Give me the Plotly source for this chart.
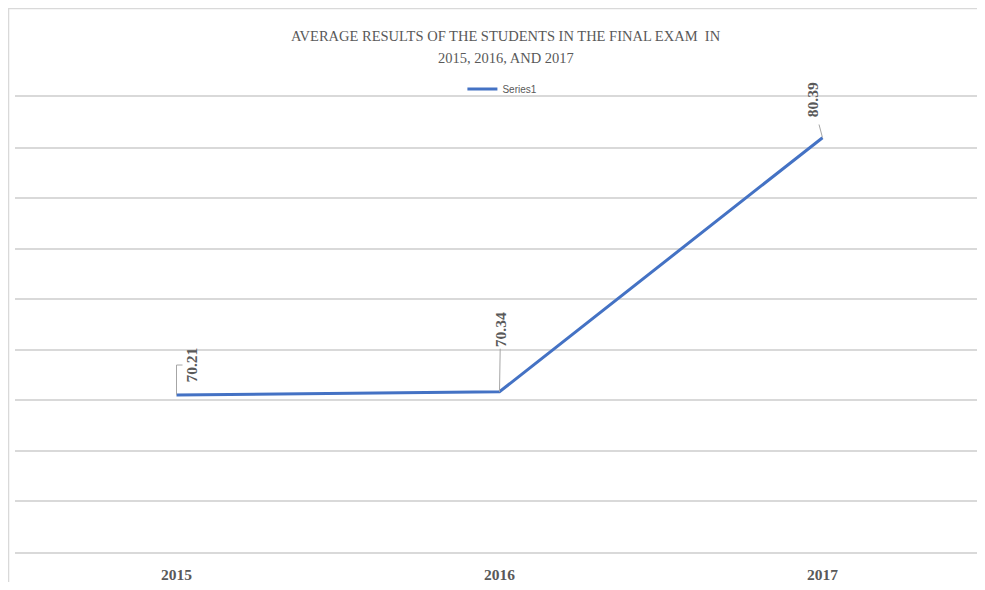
import plotly.graph_objects as go

years = ["2015", "2016", "2017"]
scores = [70.21, 70.34, 80.39]
series_name = "Series1"
title_lines = ["AVERAGE RESULTS OF THE STUDENTS IN THE FINAL EXAM  IN", "2015, 2016, AND 2017"]

GRAY = "#595959"
GRID = "#d9d9d9"
BLUE = "#4472C4"
LEADER = "#a6a6a6"
LABEL_FONT = dict(family="Liberation Serif", size=15.5, color=GRAY, weight="bold")

fig = go.Figure()
fig.add_trace(go.Scatter(
    x=years, y=scores, mode="lines", name=series_name,
    line=dict(color=BLUE, width=3), showlegend=True,
))

# category positions on the axis are the indices of the years
idx = list(range(len(years)))

# 2015 label: L-shaped leader, text placed with shifts
fig.add_annotation(
    x=idx[0], y=scores[0], xref="x", yref="y", text=f"{scores[0]:.2f}",
    showarrow=False, textangle=-90, xshift=15, yshift=30, font=LABEL_FONT,
)
fig.add_shape(
    type="path", xref="x", yref="y", xsizemode="pixel", ysizemode="pixel",
    xanchor=idx[0], yanchor=scores[0], path="M0,0 L0,30 L6,30",
    line=dict(color=LEADER, width=1),
)
# 2016 and 2017 labels: straight leaders
fig.add_annotation(
    x=idx[1], y=scores[1], xref="x", yref="y", text=f"{scores[1]:.2f}",
    showarrow=True, arrowhead=0, arrowwidth=1, arrowcolor=LEADER,
    ax=1, ay=-62, standoff=0, startstandoff=0, textangle=-90, font=LABEL_FONT,
)
fig.add_annotation(
    x=idx[2], y=scores[2], xref="x", yref="y", text=f"{scores[2]:.2f}",
    showarrow=True, arrowhead=0, arrowwidth=1, arrowcolor=LEADER,
    ax=-10, ay=-38, standoff=0, startstandoff=6, textangle=-90, font=LABEL_FONT,
)

fig.add_annotation(
    text=title_lines[0], x=0.507, y=1.134, xref="paper", yref="paper",
    showarrow=False, xanchor="center", yanchor="middle",
    font=dict(family="Liberation Serif", size=14.5, color=GRAY),
)
fig.add_annotation(
    text=title_lines[1], x=0.507, y=1.086, xref="paper", yref="paper",
    showarrow=False, xanchor="center", yanchor="middle",
    font=dict(family="Liberation Serif", size=14.5, color=GRAY),
)

# chart border
fig.add_shape(
    type="rect", xref="paper", yref="paper",
    x0=-0.0067, x1=1.01, y0=-0.2, y1=1.1945,
    line=dict(color=GRID, width=1.5), layer="below",
)

fig.update_layout(
    width=977, height=574,
    margin=dict(l=7, r=1, t=89, b=30),
    paper_bgcolor="white", plot_bgcolor="white",
    showlegend=True,
    legend=dict(
        orientation="h", x=0.503, y=1.0176, xanchor="center", yanchor="middle",
        font=dict(family="Liberation Sans Narrow, Liberation Sans", size=10, color=GRAY),
        bgcolor="rgba(0,0,0,0)",
    ),
    xaxis=dict(
        type="category", range=[-0.5, 2.5], showgrid=False, automargin=False,
        showline=True, mirror=True, linecolor=GRID, linewidth=1.5,
        ticks="", zeroline=False, ticklabelstandoff=8,
        tickfont=dict(family="Liberation Serif", size=15.5, color=GRAY, weight="bold"),
    ),
    yaxis=dict(
        range=[64, 82], dtick=2, showticklabels=False, showgrid=True, automargin=False,
        gridcolor=GRID, gridwidth=1.5, zeroline=False, showline=False, ticks="",
    ),
)

fig.write_html("out.html")
